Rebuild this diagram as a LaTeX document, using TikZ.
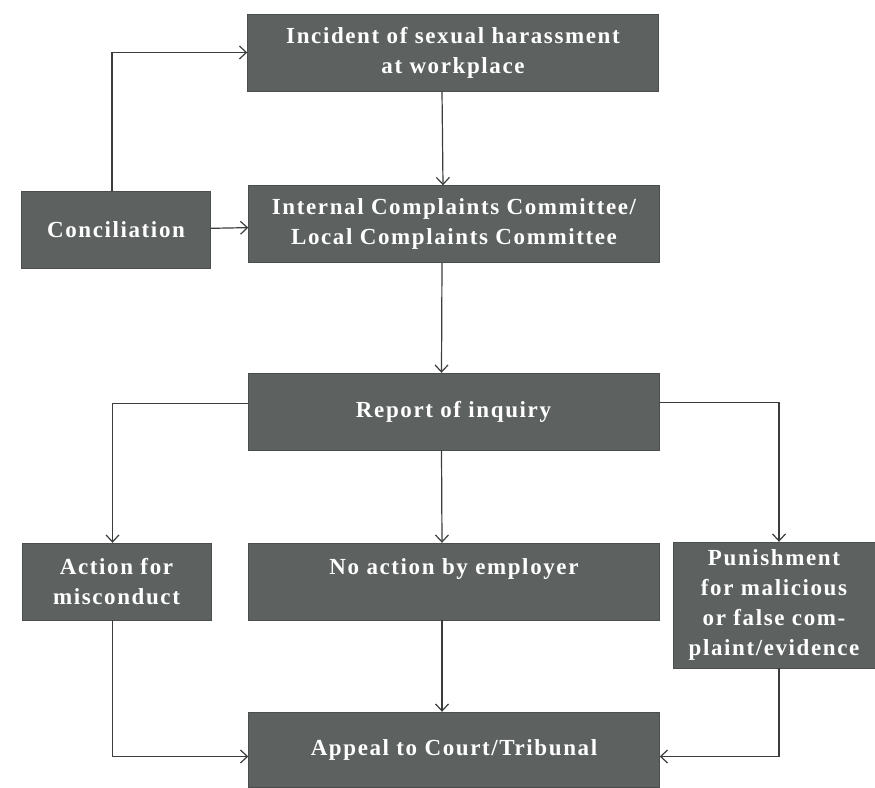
\documentclass[tikz,border=0pt]{standalone}
\usepackage{fontspec}
\setmainfont{Liberation Serif}
\newfontfamily\boxfont[LetterSpace=7]{Liberation Serif}
\usepackage{xcolor}
\usepackage{tikz}
\usetikzlibrary{arrows.meta}

\definecolor{boxgray}{RGB}{93,98,96}
\definecolor{linegray}{RGB}{58,61,60}

\begin{document}
\begin{tikzpicture}[
          x=1pt, y=-1pt,
          every node/.style={fill=boxgray, draw=boxgray!80!black, text=white,
            font=\boxfont\fontsize{23}{30}\selectfont\bfseries, align=center,
            inner sep=0pt},
          wide/.style={minimum width=411pt, minimum height=77pt},
          narrow/.style={minimum width=189pt, minimum height=77pt},
          flow/.style={draw=linegray, line width=1.2pt,
            -{Straight Barb[length=7pt, width=13pt]}}
        ]
          \useasboundingbox (0,0) rectangle (875,787);
          % boxes
          \node[wide] (inc) at (453,52.5) {Incident of sexual harassment\\at workplace};
          \node[wide] (icc) at (454,224) {Internal Complaints Committee/\\Local Complaints Committee};
          \node[narrow] (conc) at (116,230) {Conciliation};
          \node[wide] (rep) at (453.5,411.5) {Report of inquiry};
          \node[narrow] (act) at (116.5,581.5) {Action for\\misconduct};
          \node[wide] (noact) at (454,581.5) {No action by employer\\\mbox{}};
          \node[minimum width=202pt, minimum height=126pt] (pun) at (774,605)
            {Punishment\\for malicious\\or false com-\\plaint/evidence};
          \node[wide, minimum height=75pt] (app) at (454,749.5) {Appeal to Court/Tribunal};
          % connectors
          \draw[flow] ([xshift=-4pt]conc.north) |- (inc.west);
          \draw[flow] (conc) -- (icc);
          \draw[flow] ([xshift=-11pt]inc.south) -- ([xshift=-11pt]icc.north);
          \draw[flow] ([xshift=-12pt]icc.south) -- ([xshift=-12pt]rep.north);
          \draw[flow] ([yshift=8pt]rep.west) -| ([xshift=-4pt]act.north);
          \draw[flow] ([yshift=9pt]rep.east) -| ([xshift=5pt]pun.north);
          \draw[flow] ([xshift=-12pt]rep.south) -- ([xshift=-12pt]noact.north);
          \draw[flow] ([xshift=-12pt]noact.south) -- ([xshift=-12pt]app.north);
          \draw[flow] ([xshift=-4pt]act.south) |- ([yshift=-7pt]app.west);
          \draw[flow] ([xshift=5pt]pun.south) |- ([yshift=-7pt]app.east);
        \end{tikzpicture}
\end{document}
